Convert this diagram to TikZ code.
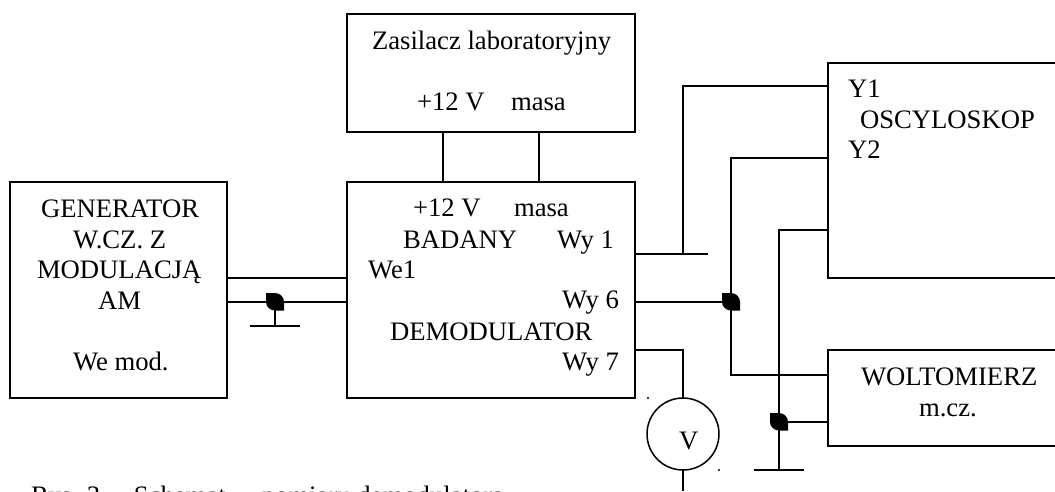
\documentclass[tikz,border=0pt]{standalone}
\usepackage{fontspec}
\setmainfont{Liberation Serif}
\tikzset{
  box/.style={draw=black,line width=1.5pt,minimum width=#1,anchor=north west,inner sep=0pt,outer sep=0pt},
  label/.style={anchor=base west,inner sep=0pt,outer sep=0pt,font=\fontsize{26.67}{30.67}\selectfont},
  thin wire/.style={draw=black,line width=1.5pt},
  leaf/.style={fill=black,draw=none},
  speck/.style={circle,fill=black,inner sep=0pt,minimum size=2.2pt}
}
\newcommand{\leafat}[1]{%
  \fill[leaf] ($(#1)+(-9,-9)$) -- ($(#1)+(0,-9)$) .. controls ($(#1)+(5,-9)$) and ($(#1)+(9,-5)$) .. ($(#1)+(9,0)$)
   -- ($(#1)+(9,8.5)$) -- ($(#1)+(0,8.5)$) .. controls ($(#1)+(-5,8.5)$) and ($(#1)+(-9,4.5)$) .. ($(#1)+(-9,0)$) -- cycle;}
\usetikzlibrary{calc}
\begin{document}
\begin{tikzpicture}[x=1pt,y=-1pt]
\useasboundingbox (0,0) rectangle (1055,491);
% boxes
\node[box=288pt,minimum height=118pt] (zas) at (347,14) {};
\node[box=217pt,minimum height=216pt] (gen) at (10,182) {};
\node[box=288pt,minimum height=216pt] (dem) at (347,182) {};
\node[anchor=north west,inner sep=0pt,outer sep=0pt,minimum width=227pt,minimum height=215pt] (osc) at (828,63) {};
\node[anchor=north west,inner sep=0pt,outer sep=0pt,minimum width=227pt,minimum height=96pt] (wol) at (828,350) {};
\draw[thin wire] (osc.north east) -- (osc.north west) -- (osc.south west) -- (osc.south east);
\draw[thin wire] (wol.north east) -- (wol.north west) -- (wol.south west) -- (wol.south east);
\node[circle,draw=black,line width=1.5pt,minimum size=72pt,inner sep=0pt,outer sep=0pt] (volt) at (683,434) {};
% labels
\node[label] (t1) at (372,49) {Zasilacz laboratoryjny};
\node[label] (t2) at (417,110) {+12 V};
\node[label] (t3) at (511,110) {masa};
\node[label] (t4) at (41,217) {GENERATOR};
\node[label] (t5) at (73,248) {W.CZ. Z};
\node[label] (t6) at (37,278) {MODULACJĄ};
\node[label] (t7) at (98,309) {AM};
\node[label] (t8) at (73,370) {We mod.};
\node[label] (t9) at (413,216) {+12 V};
\node[label] (t10) at (514,216) {masa};
\node[label] (t11) at (403,248) {BADANY};
\node[label] (t12) at (557,248) {Wy 1};
\node[label] (t13) at (368,278) {We1};
\node[label] (t14) at (562,308) {Wy 6};
\node[label] (t15) at (390,340) {DEMODULATOR};
\node[label] (t16) at (562,370) {Wy 7};
\node[label] (t17) at (848,97) {Y1};
\node[label] (t18) at (860,128) {OSCYLOSKOP};
\node[label] (t19) at (848,158) {Y2};
\node[label] (t20) at (861,385) {WOLTOMIERZ};
\node[label] (t21) at (919,416) {m.cz.};
\node[label] (t22) at (679,449) {V};
\node[label] (cap) at (31,504.6) {Rys. 3.\hspace{27pt}Schemat\hspace{36pt}pomiaru demodulatora};
\node[speck] (s1) at (648,398) {};
\node[speck] (s2) at (719,470) {};
% free ends and junctions
\coordinate (zaA) at (443,132); \coordinate (deA) at (443,182);
\coordinate (zaB) at (539,132); \coordinate (deB) at (539,182);
\coordinate (g1) at (227,278); \coordinate (d1) at (347,278);
\coordinate (g2) at (227,302); \coordinate (d2) at (347,302);
\coordinate (jg) at (275,302); \coordinate (gg) at (275,326);
\coordinate (ggl) at (250,326); \coordinate (ggr) at (300,326);
\coordinate (o1) at (635,254); \coordinate (o1e) at (708,254);
\coordinate (o1j) at (683,254); \coordinate (y1) at (828,86);
\coordinate (o6) at (635,302); \coordinate (j6) at (731,302);
\coordinate (y2) at (828,158); \coordinate (w1) at (828,375);
\coordinate (y3) at (828,230); \coordinate (jw) at (779,422);
\coordinate (w2) at (828,422); \coordinate (g3) at (779,470);
\coordinate (g3l) at (754,470); \coordinate (g3r) at (804,470);
\coordinate (o7) at (635,350); \coordinate (vend) at (683,491);
% connectors
\draw[thin wire] (zaA) -- (deA);
\draw[thin wire] (zaB) -- (deB);
\draw[thin wire] (g1) -- (d1);
\draw[thin wire] (g2) -- (d2);
\draw[thin wire] (jg) -- (gg);
\draw[thin wire] (ggl) -- (ggr);
\leafat{jg}
\draw[thin wire] (o1) -- (o1e);
\draw[thin wire] (o1j) |- (y1);
\draw[thin wire] (o6) -- (j6);
\draw[thin wire] (y2) -| (j6);
\draw[thin wire] (j6) |- (w1);
\draw[thin wire] (y3) -| (g3);
\draw[thin wire] (g3l) -- (g3r);
\draw[thin wire] (jw) -- (w2);
\leafat{j6}
\leafat{jw}
\draw[thin wire] (o7) -| (volt.north);
\draw[thin wire] (volt.south) -- (vend);
\end{tikzpicture}
\end{document}
